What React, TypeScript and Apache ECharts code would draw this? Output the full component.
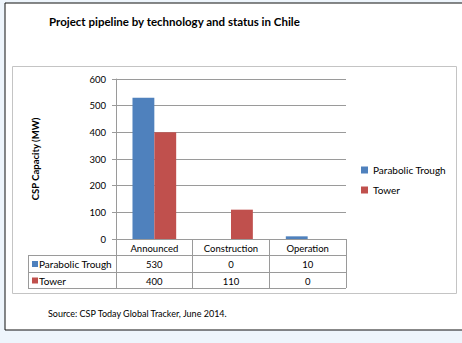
import React, { useEffect, useRef } from "react";
import * as echarts from "echarts";

const categories = ["Announced", "Construction", "Operation"];
const seriesNames = ["Parabolic Trough", "Tower"];
const troughValues = [530, 0, 10];
const towerValues = [400, 110, 0];
const yTicks = { min: 0, max: 600, interval: 100 };
const colors = ["#4f81bd", "#c0504d"];
const titleText = "Project pipeline by technology and status in Chile";
const sourceText = "Source: CSP Today Global Tracker, June 2014.";
const yAxisTitle = "CSP Capacity (MW)";

const FONT = "Lato, 'Open Sans', sans-serif";

export default function App() {
  const ref = useRef<HTMLDivElement>(null);
  useEffect(() => {
    document.body.style.margin = "0";
    const chart = echarts.init(ref.current!, null, { renderer: "svg" });
    const tableLeft = 28;
    const plotLeft = 116;
    const plotRight = 346;
    const rowLines = [255, 272, 288];
    const graphics: any[] = [
      { type: "rect", shape: { x: 5, y: 3, width: 470, height: 327 }, style: { fill: "#fff", stroke: "#111", lineWidth: 1 }, z: -10 },
      { type: "rect", shape: { x: 12.5, y: 66.5, width: 444, height: 227 }, style: { fill: "#fff", stroke: "#c4c4c4", lineWidth: 1 }, z: -9 },
      { type: "text", x: 49, y: 21, style: { text: titleText, font: `bold 11.5px ${FONT}`, fill: "#000", verticalAlign: "middle" } },
      { type: "text", x: 48, y: 313, style: { text: sourceText, font: `9px ${FONT}`, fill: "#000", verticalAlign: "middle" } },
    ];
    rowLines.forEach((y) => {
      graphics.push({ type: "line", shape: { x1: tableLeft, y1: y + 0.5, x2: plotRight, y2: y + 0.5 }, style: { stroke: "#9a9a9a", lineWidth: 1 } });
    });
    graphics.push({ type: "line", shape: { x1: tableLeft + 0.5, y1: rowLines[0], x2: tableLeft + 0.5, y2: rowLines[2] + 0.5 }, style: { stroke: "#9a9a9a", lineWidth: 1 } });
    seriesNames.forEach((name, i) => {
      const cy = (rowLines[i] + rowLines[i + 1]) / 2 + 0.5;
      graphics.push({ type: "rect", shape: { x: 32, y: cy - 3, width: 6, height: 6 }, style: { fill: colors[i] } });
      graphics.push({ type: "text", x: 39, y: cy, style: { text: name, font: `10px ${FONT}`, fill: "#000", verticalAlign: "middle" } });
    });

    chart.setOption({
      animation: false,
      backgroundColor: "#eef5fc",
      textStyle: { fontFamily: FONT },
      grid: { left: plotLeft, right: 462 - plotRight, top: 79, bottom: 343 - 239, containLabel: false },
      legend: {
        orient: "vertical",
        left: 356,
        top: 160,
        itemWidth: 7,
        itemHeight: 7,
        icon: "rect",
        itemGap: 10,
        textStyle: { fontSize: 10, color: "#000", fontFamily: FONT },
        data: seriesNames,
      },
      xAxis: {
        type: "category",
        data: categories,
        axisLine: { lineStyle: { color: "#9a9a9a" } },
        axisTick: { show: true, length: 49, lineStyle: { color: "#9a9a9a" } },
        axisLabel: {
          margin: 1,
          interval: 0,
          formatter: (v: string, idx: number) => `{h|${v}}\n{v|${troughValues[idx]}}\n{v|${towerValues[idx]}}`,
          rich: {
            h: { fontSize: 9.5, lineHeight: 16.5, color: "#000", fontFamily: FONT },
            v: { fontSize: 9.5, lineHeight: 16.5, color: "#000", fontFamily: FONT },
          },
        },
      },
      yAxis: {
        type: "value",
        min: yTicks.min,
        max: yTicks.max,
        interval: yTicks.interval,
        name: yAxisTitle,
        nameLocation: "middle",
        nameRotate: 90,
        nameGap: 76,
        nameTextStyle: { fontSize: 9.5, fontWeight: "bold", color: "#000", fontFamily: FONT },
        axisLine: { show: true, lineStyle: { color: "#9a9a9a" } },
        axisTick: { show: true, length: 4, lineStyle: { color: "#9a9a9a" } },
        axisLabel: { fontSize: 9.5, color: "#000", margin: 10 },
        splitLine: { lineStyle: { color: "#9a9a9a" } },
      },
      series: [
        { name: seriesNames[0], type: "bar", data: troughValues, itemStyle: { color: colors[0] }, barGap: "0%", barCategoryGap: "43%" },
        { name: seriesNames[1], type: "bar", data: towerValues, itemStyle: { color: colors[1] }, barGap: "0%", barCategoryGap: "43%" },
      ],
      graphic: graphics,
    });
    return () => chart.dispose();
  }, []);
  return <div ref={ref} style={{ width: 462, height: 343 }} />;
}
